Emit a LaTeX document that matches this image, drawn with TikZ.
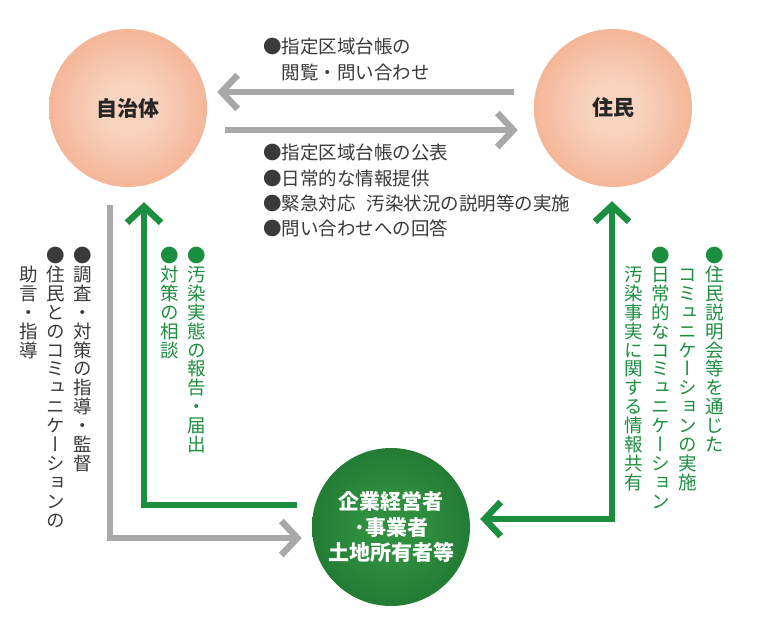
\documentclass[tikz,border=0pt]{standalone}
\usepackage{fontspec}
\setmainfont{Noto Sans CJK JP}
\newfontfamily\tatefont[RawFeature=+vert]{Noto Sans CJK JP}
\usetikzlibrary{arrows.meta}

\definecolor{textgray}{HTML}{3A3A3A}
\definecolor{arrowgray}{HTML}{A8A8A8}
\definecolor{leafgreen}{HTML}{1B8E3F}
\definecolor{orangecore}{HTML}{F8D3C0}
\definecolor{orangemid}{HTML}{F3AD8C}
\definecolor{orangerim}{HTML}{EC8C66}
\definecolor{greencore}{HTML}{2F8F3F}
\definecolor{greenrim}{HTML}{0F5A22}

\pgfdeclareradialshading{orangeball}{\pgfpoint{0bp}{0bp}}{color(0bp)=(orangecore); color(8bp)=(orangecore); color(30bp)=(orangemid); color(50bp)=(orangerim)}
\pgfdeclareradialshading{greenball}{\pgfpoint{0bp}{0bp}}{color(0bp)=(greencore); color(10bp)=(greencore); color(50bp)=(greenrim)}

% one column of vertical text, characters stacked top to bottom
\makeatletter
\newcommand\tatecol[1]{\vtop{\baselineskip=18.9pt\lineskiplimit=-100pt
  \@tfor\tatechar:=#1\do{\hbox to 1em{\hss\tatechar\hss}}}}
\makeatother
\newcommand\tategap{\hskip8.5pt}

\tikzset{
  ball/.style={circle, minimum size=158pt, inner sep=0pt, align=center, shade},
  orangeball/.style={ball, shading=orangeball, text=black!85,
    font=\fontsize{21}{25}\selectfont\bfseries},
  greenball/.style={ball, shading=greenball, text=white,
    font=\fontsize{21}{25.5}\selectfont\bfseries},
  grayarrow/.style={draw=arrowgray, line width=6.5pt,
    -{Straight Barb[length=16pt,width=34pt]}},
  greenarrow/.style={draw=leafgreen, line width=6.5pt,
    -{Straight Barb[length=16pt,width=34pt]}},
  memo/.style={font=\fontsize{18.5}{25.3}\selectfont, text=textgray,
    align=left, inner sep=0pt},
  tatememo/.style={font=\tatefont\fontsize{18.5}{18.9}\selectfont,
    inner sep=0pt, anchor=north east},
}

\begin{document}
\begin{tikzpicture}[x=1pt,y=-1pt]
\useasboundingbox[fill=white] (0,0) rectangle (760,632);

% the three parties
\node[orangeball] (jichitai) at (128,108) {自治体};
\node[orangeball] (jumin) at (613,108) {住民};
\node[greenball] (jigyosha) at (391,527) {企業経営者\\·事業者\\土地所有者等};

% flows between them
\draw[grayarrow] ([xshift=-20pt,yshift=16pt]jumin.west) -- ([xshift=10pt,yshift=16pt]jichitai.east);
\draw[grayarrow] ([xshift=18pt,yshift=-22pt]jichitai.east) -- ([xshift=-16pt,yshift=-22pt]jumin.west);
\draw[grayarrow] ([xshift=-18pt,yshift=-18pt]jichitai.south) |- ([xshift=-10pt,yshift=-11pt]jigyosha.west);
\draw[greenarrow] ([xshift=-15pt,yshift=22pt]jigyosha.west) -| ([xshift=16pt,yshift=-15pt]jichitai.south);
\draw[greenarrow, {Straight Barb[length=16pt,width=34pt]}-{Straight Barb[length=16pt,width=34pt]}]
  ([xshift=-1pt,yshift=-14pt]jumin.south) |- ([xshift=10pt,yshift=8pt]jigyosha.east);

% labels
\node[memo, anchor=north west] (etsuran) at (263,38) {●指定区域台帳の\\\hspace{1em}閲覧・問い合わせ};
\node[memo, anchor=north west] (kohyo) at (263,144) {●指定区域台帳の公表\\●日常的な情報提供\\●緊急対応\hspace{0.6em}汚染状況の説明等の実施\\●問い合わせへの回答};
\node[tatememo, text=textgray] (shido) at (92.3,247)
  {\tatecol{{}助言・指導}\tategap\tatecol{●住民とのコミュニケーションの}\tategap\tatecol{●調査・対策の指導・監督}};
\node[tatememo, text=leafgreen] (hokoku) at (206.3,247)
  {\tatecol{●対策の相談}\tategap\tatecol{●汚染実態の報告・届出}};
\node[tatememo, text=leafgreen] (kyoyu) at (724.3,247)
  {\tatecol{{}汚染事実に関する情報共有}\tategap\tatecol{●日常的なコミュニケーション}\tategap\tatecol{{}コミュニケーションの実施}\tategap\tatecol{●住民説明会等を通じた}};
\end{tikzpicture}
\end{document}
